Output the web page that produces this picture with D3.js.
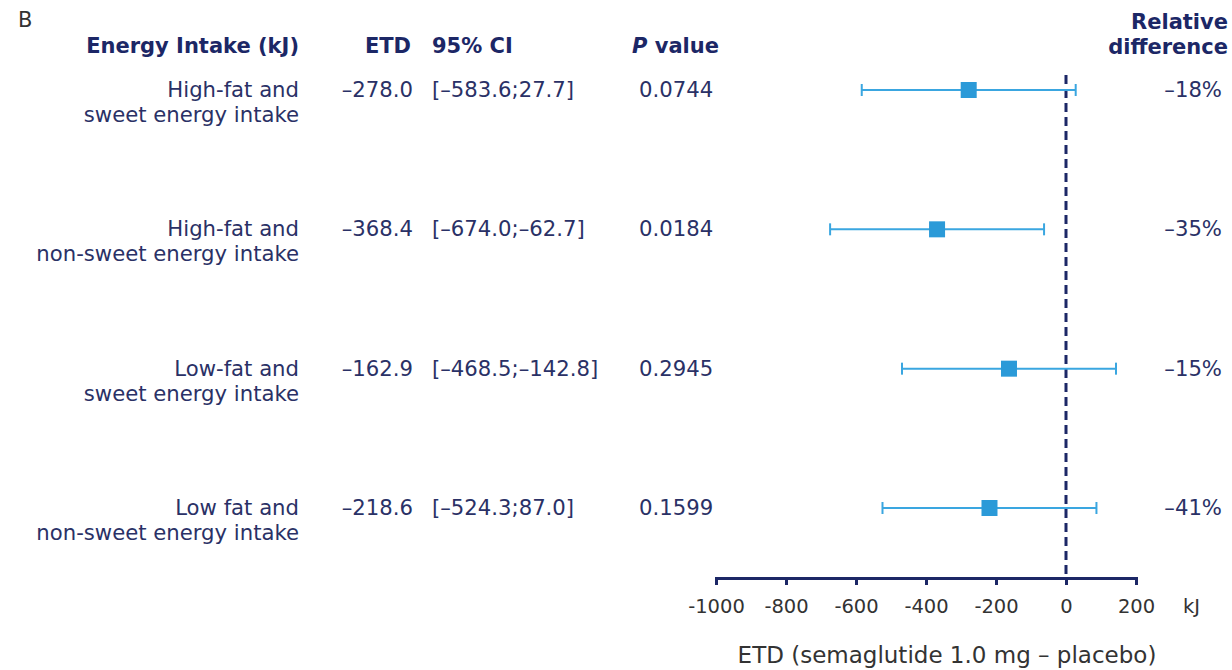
<!DOCTYPE html>
<html>
<head>
<meta charset="utf-8">
<script src="https://cdn.jsdelivr.net/npm/d3@7"></script>
<style>
  html, body { margin: 0; padding: 0; background: #fff; }
  svg { display: block; font-family: "DejaVu Sans", Verdana, sans-serif; }
</style>
</head>
<body>
<svg id="chart" width="1232" height="670"></svg>
<script>
// Forest plot: energy intake by food category, semaglutide 1.0 mg vs placebo
const categories = [
  ["High-fat and", "sweet energy intake"],
  ["High-fat and", "non-sweet energy intake"],
  ["Low-fat and", "sweet energy intake"],
  ["Low fat and", "non-sweet energy intake"]
];
const etd = [-278.0, -368.4, -162.9, -218.6];
const ciLower = [-583.6, -674.0, -468.5, -524.3];
const ciUpper = [27.7, -62.7, 142.8, 87.0];
const ciLabels = ["[–583.6;27.7]", "[–674.0;–62.7]", "[–468.5;–142.8]", "[–524.3;87.0]"];
const pValues = ["0.0744", "0.0184", "0.2945", "0.1599"];
const relDiff = ["–18%", "–35%", "–15%", "–41%"];
const xTicks = [-1000, -800, -600, -400, -200, 0, 200];

const navy = "#1c2766";
const textCol = "#2a3166";
const grey = "#333333";
const blue = "#3aa6e0";
const blueFill = "#2b9ad8";

const svg = d3.select("#chart");

const x = d3.scaleLinear().domain([-1000, 200]).range([716, 1136]);
const y = d3.scalePoint().domain(d3.range(categories.length)).range([90, 508]);

// Panel letter
svg.append("text").attr("x", 18).attr("y", 27)
  .attr("font-size", 21).attr("fill", grey).text("B");

// Column headers
const hdr = svg.append("g").attr("font-weight", "bold").attr("fill", navy).attr("font-size", 21);
hdr.append("text").attr("x", 299).attr("y", 53).attr("text-anchor", "end").text("Energy Intake (kJ)");
hdr.append("text").attr("x", 411).attr("y", 53).attr("text-anchor", "end").text("ETD");
hdr.append("text").attr("x", 432).attr("y", 53).text("95% CI");
const pv = hdr.append("text").attr("x", 632).attr("y", 53);
pv.append("tspan").attr("font-style", "italic").text("P");
pv.append("tspan").text(" value");
hdr.append("text").attr("x", 1228).attr("y", 29).attr("text-anchor", "end").text("Relative");
hdr.append("text").attr("x", 1228).attr("y", 54).attr("text-anchor", "end").text("difference");

// Row text
const rows = svg.append("g").attr("font-size", 21.2).attr("fill", textCol);
categories.forEach((c, i) => {
  const yy = y(i);
  rows.append("text").attr("x", 299).attr("y", yy + 7).attr("text-anchor", "end").text(c[0]);
  rows.append("text").attr("x", 299).attr("y", yy + 32).attr("text-anchor", "end").text(c[1]);
  rows.append("text").attr("x", 413).attr("y", yy + 7).attr("text-anchor", "end")
    .text("–" + Math.abs(etd[i]).toFixed(1));
  rows.append("text").attr("x", 432).attr("y", yy + 7).text(ciLabels[i]);
  rows.append("text").attr("x", 639).attr("y", yy + 7).text(pValues[i]);
  rows.append("text").attr("x", 1222).attr("y", yy + 7).attr("text-anchor", "end").text(relDiff[i]);
});

// Reference line at zero
svg.append("line")
  .attr("x1", x(0)).attr("x2", x(0))
  .attr("y1", 75).attr("y2", 578)
  .attr("stroke", navy).attr("stroke-width", 3)
  .attr("stroke-dasharray", "9,5");

// Confidence intervals and point estimates
const marks = svg.append("g");
etd.forEach((v, i) => {
  const yy = y(i);
  marks.append("line")
    .attr("x1", x(ciLower[i])).attr("x2", x(ciUpper[i]))
    .attr("y1", yy).attr("y2", yy)
    .attr("stroke", blue).attr("stroke-width", 2);
  [ciLower[i], ciUpper[i]].forEach(e => {
    marks.append("line")
      .attr("x1", x(e)).attr("x2", x(e))
      .attr("y1", yy - 6).attr("y2", yy + 6)
      .attr("stroke", blue).attr("stroke-width", 2);
  });
  marks.append("rect")
    .attr("x", x(v) - 8).attr("y", yy - 8)
    .attr("width", 16).attr("height", 16)
    .attr("fill", blueFill);
});

// X axis
const axis = d3.axisBottom(x).tickValues(xTicks).tickSize(7).tickSizeOuter(0)
  .tickFormat(d3.format("d"));
const ax = svg.append("g").attr("transform", "translate(0,578)").call(axis);
ax.select(".domain").attr("stroke", navy).attr("stroke-width", 3);
ax.selectAll(".tick line").attr("stroke", navy).attr("stroke-width", 3).attr("y1", -1);
ax.selectAll(".tick text")
  .attr("font-family", "DejaVu Sans, Verdana, sans-serif")
  .attr("font-size", 19.5).attr("fill", grey).attr("dy", 0).attr("y", 35)
  .text(d => d < 0 ? "-" + Math.abs(d) : d);
svg.append("text").attr("x", 1183).attr("y", 613)
  .attr("font-size", 19.5).attr("fill", grey).text("kJ");

// Axis title
svg.append("text").attr("x", 947).attr("y", 663).attr("text-anchor", "middle")
  .attr("font-size", 23).attr("fill", grey).text("ETD (semaglutide 1.0 mg – placebo)");
</script>
</body>
</html>
